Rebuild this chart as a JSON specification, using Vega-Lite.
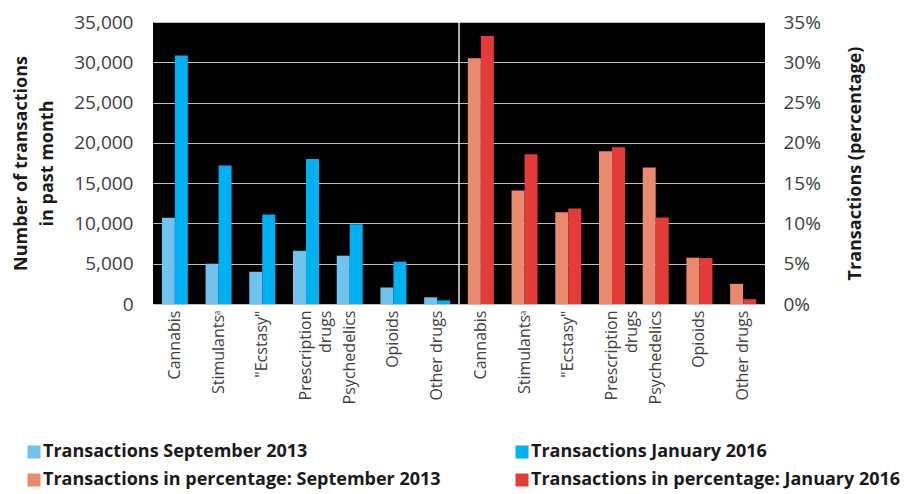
{
  "$schema": "https://vega.github.io/schema/vega-lite/v6.json",
  "autosize": {"type": "none"},
  "padding": {"left": 153, "top": 22, "right": 147, "bottom": 190},
  "width": 612,
  "height": 282,
  "background": "white",
  "config": {
    "font": "Open Sans",
    "view": {"fill": "black", "stroke": null}
  },
  "datasets": {
    "counts": [
      {"cat": "Cannabis|L", "year": "2013", "series": "Transactions September 2013", "value": 10700},
      {"cat": "Cannabis|L", "year": "2016", "series": "Transactions January 2016", "value": 30850},
      {"cat": "Stimulants|L", "year": "2013", "series": "Transactions September 2013", "value": 5000},
      {"cat": "Stimulants|L", "year": "2016", "series": "Transactions January 2016", "value": 17200},
      {"cat": "Ecstasy|L", "year": "2013", "series": "Transactions September 2013", "value": 4000},
      {"cat": "Ecstasy|L", "year": "2016", "series": "Transactions January 2016", "value": 11100},
      {"cat": "Prescription|L", "year": "2013", "series": "Transactions September 2013", "value": 6600},
      {"cat": "Prescription|L", "year": "2016", "series": "Transactions January 2016", "value": 18000},
      {"cat": "Psychedelics|L", "year": "2013", "series": "Transactions September 2013", "value": 6000},
      {"cat": "Psychedelics|L", "year": "2016", "series": "Transactions January 2016", "value": 9900},
      {"cat": "Opioids|L", "year": "2013", "series": "Transactions September 2013", "value": 2050},
      {"cat": "Opioids|L", "year": "2016", "series": "Transactions January 2016", "value": 5250},
      {"cat": "Other|L", "year": "2013", "series": "Transactions September 2013", "value": 830},
      {"cat": "Other|L", "year": "2016", "series": "Transactions January 2016", "value": 450}
    ],
    "pcts": [
      {"cat": "Cannabis|R", "year": "2013", "series": "Transactions in percentage: September 2013", "value": 30.5},
      {"cat": "Cannabis|R", "year": "2016", "series": "Transactions in percentage: January 2016", "value": 33.25},
      {"cat": "Stimulants|R", "year": "2013", "series": "Transactions in percentage: September 2013", "value": 14.1},
      {"cat": "Stimulants|R", "year": "2016", "series": "Transactions in percentage: January 2016", "value": 18.6},
      {"cat": "Ecstasy|R", "year": "2013", "series": "Transactions in percentage: September 2013", "value": 11.4},
      {"cat": "Ecstasy|R", "year": "2016", "series": "Transactions in percentage: January 2016", "value": 11.85},
      {"cat": "Prescription|R", "year": "2013", "series": "Transactions in percentage: September 2013", "value": 18.95},
      {"cat": "Prescription|R", "year": "2016", "series": "Transactions in percentage: January 2016", "value": 19.45},
      {"cat": "Psychedelics|R", "year": "2013", "series": "Transactions in percentage: September 2013", "value": 16.95},
      {"cat": "Psychedelics|R", "year": "2016", "series": "Transactions in percentage: January 2016", "value": 10.75},
      {"cat": "Opioids|R", "year": "2013", "series": "Transactions in percentage: September 2013", "value": 5.75},
      {"cat": "Opioids|R", "year": "2016", "series": "Transactions in percentage: January 2016", "value": 5.7},
      {"cat": "Other|R", "year": "2013", "series": "Transactions in percentage: September 2013", "value": 2.5},
      {"cat": "Other|R", "year": "2016", "series": "Transactions in percentage: January 2016", "value": 0.6}
    ],
    "divider": [{"cat": "Cannabis|R"}]
  },
  "layer": [
    {
      "data": {"name": "counts"},
      "mark": {"type": "bar"},
      "encoding": {
        "x": {
          "field": "cat", "type": "nominal", "title": null,
          "scale": {
            "domain": ["Cannabis|L", "Stimulants|L", "Ecstasy|L", "Prescription|L", "Psychedelics|L", "Opioids|L", "Other|L",
                       "Cannabis|R", "Stimulants|R", "Ecstasy|R", "Prescription|R", "Psychedelics|R", "Opioids|R", "Other|R"],
            "paddingInner": 0, "paddingOuter": 0
          },
          "axis": {
            "labelAngle": -90,
            "labelExpr": "split(datum.value,'|')[0] == 'Prescription' ? ['Prescription','drugs'] : split(datum.value,'|')[0] == 'Stimulants' ? 'Stimulantsᵃ' : split(datum.value,'|')[0] == 'Ecstasy' ? '\"Ecstasy\"' : split(datum.value,'|')[0] == 'Other' ? 'Other drugs' : split(datum.value,'|')[0]",
            "labelFontSize": 16,
            "labelColor": "#404040",
            "labelPadding": 6,
            "labelLineHeight": 20,
            "ticks": false,
            "domain": false
          }
        },
        "xOffset": {"field": "year", "type": "nominal", "scale": {"paddingOuter": 0.68, "paddingInner": 0}},
        "y": {
          "field": "value", "type": "quantitative",
          "scale": {"domain": [0, 35000], "nice": false},
          "axis": {
            "title": ["Number of transactions", "in past month"],
            "titleFontSize": 18, "titleFontWeight": "bold", "titleColor": "#1a1a1a",
            "titleLineHeight": 26, "titlePadding": 17,
            "values": [0, 5000, 10000, 15000, 20000, 25000, 30000, 35000],
            "format": ",.0f",
            "labelFontSize": 19, "labelColor": "#404040", "labelPadding": 20,
            "ticks": false, "domain": false,
            "grid": true, "gridColor": "#c0c0c0", "gridWidth": 1
          }
        },
        "color": {
          "field": "series", "type": "nominal",
          "scale": {
            "domain": ["Transactions September 2013", "Transactions in percentage: September 2013", "Transactions January 2016", "Transactions in percentage: January 2016"],
            "range": ["#6fc3ee", "#e98a6f", "#00b0f0", "#e33a3a"]
          },
          "legend": {
            "title": null, "orient": "none", "legendX": -128, "legendY": 421,
            "padding": 0,
            "columns": 2, "columnPadding": 72, "rowPadding": 10,
            "symbolType": "square", "symbolSize": 169, "symbolStrokeWidth": 0,
            "labelFontSize": 18, "labelFontWeight": "bold", "labelColor": "#1a1a1a",
            "labelLimit": 500, "labelOffset": 0
          }
        }
      }
    },
    {
      "data": {"name": "pcts"},
      "mark": {"type": "bar"},
      "encoding": {
        "x": {
          "field": "cat", "type": "nominal", "title": null,
          "scale": {
            "domain": ["Cannabis|L", "Stimulants|L", "Ecstasy|L", "Prescription|L", "Psychedelics|L", "Opioids|L", "Other|L",
                       "Cannabis|R", "Stimulants|R", "Ecstasy|R", "Prescription|R", "Psychedelics|R", "Opioids|R", "Other|R"],
            "paddingInner": 0, "paddingOuter": 0
          }
        },
        "xOffset": {"field": "year", "type": "nominal", "scale": {"paddingOuter": 0.68, "paddingInner": 0}},
        "y": {
          "field": "value", "type": "quantitative",
          "scale": {"domain": [0, 35], "nice": false},
          "axis": {
            "orient": "right",
            "title": "Transactions (percentage)",
            "titleAngle": -90,
            "titleFontSize": 18, "titleFontWeight": "bold", "titleColor": "#1a1a1a",
            "titlePadding": 44,
            "values": [0, 5, 10, 15, 20, 25, 30, 35],
            "labelExpr": "datum.value + '%'",
            "labelFontSize": 19, "labelColor": "#404040", "labelPadding": 18,
            "ticks": false, "domain": false, "grid": false
          }
        },
        "color": {"field": "series", "type": "nominal"}
      }
    },
    {
      "data": {"name": "divider"},
      "mark": {"type": "rule", "color": "#e8e8e8", "strokeWidth": 1.5},
      "encoding": {
        "x": {"field": "cat", "type": "nominal", "bandPosition": 0}
      }
    }
  ],
  "resolve": {"scale": {"y": "independent"}}
}
